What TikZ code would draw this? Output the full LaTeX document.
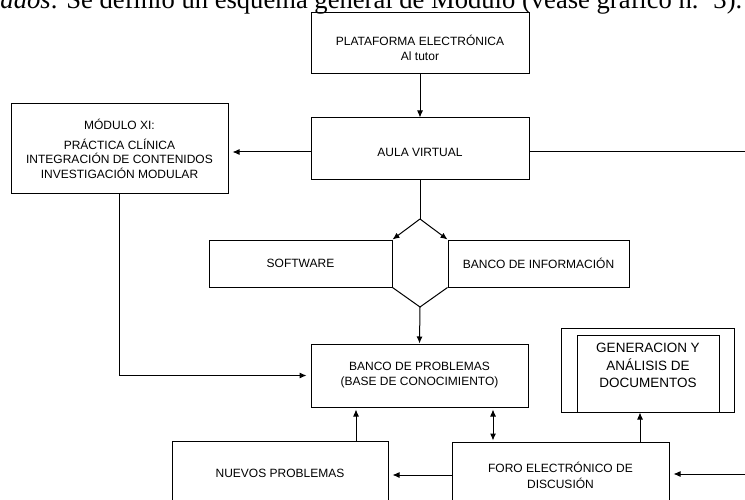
\documentclass[tikz,border=0pt]{standalone}
\usepackage{fontspec}
\setmainfont{Liberation Serif}
\newfontfamily\boxfont{Liberation Sans}
\usetikzlibrary{arrows.meta}

\begin{document}
\begin{tikzpicture}[x=1pt,y=-1pt,>={Latex[length=7pt,width=6pt]},line width=1pt,
    caja/.style={draw,align=center,inner sep=0pt,font=\boxfont\fontsize{12}{15}\selectfont},
    flecha/.style={->,shorten >=4pt}]
    \clip (0,0) rectangle (745,500);

    % Text above
    \node[anchor=base west,inner sep=0pt,font=\fontsize{26.6}{30}\selectfont] (cita) at (0,9)
        {\textit{ados}. Se definió un esquema general de Módulo (véase gráfico n.º 3).};

    % Boxes
    \node[caja,minimum width=218pt,minimum height=61pt] (plat) at (420,43.5)
        {\rule{0pt}{20pt}PLATAFORMA ELECTRÓNICA\\Al tutor};
    \node[caja,minimum width=218pt,minimum height=62pt] (aula) at (420,149)
        {\rule{0pt}{14.6pt}AULA VIRTUAL};
    \node[caja,minimum width=217pt,minimum height=90pt,font=\boxfont\fontsize{12}{14.5}\selectfont] (modulo) at (119.5,149)
        {MÓDULO XI:\\[5pt]PRÁCTICA CLÍNICA\\INTEGRACIÓN DE CONTENIDOS\\INVESTIGACIÓN MODULAR};
    \node[caja,minimum width=183pt,minimum height=47pt] (soft) at (300.5,263.5) {SOFTWARE};
    \node[caja,minimum width=181pt,minimum height=47pt] (binfo) at (538.5,263.5) {BANCO DE INFORMACIÓN};
    \node[caja,minimum width=217pt,minimum height=63pt] (bprob) at (419.5,375.5)
        {BANCO DE PROBLEMAS\\(BASE DE CONOCIMIENTO)};
    \node[caja,minimum width=216pt,minimum height=64pt] (nuevos) at (280,473) {NUEVOS PROBLEMAS};
    \node[caja,minimum width=217pt,minimum height=66pt,font=\boxfont\fontsize{12}{16}\selectfont] (foro) at (560.5,475)
        {FORO ELECTRÓNICO DE\\DISCUSIÓN};
    \node[draw,minimum width=173pt,minimum height=84pt] (marco) at (647.5,370) {};
    \node[caja,minimum width=142pt,minimum height=77pt,font=\boxfont\fontsize{13.5}{17.5}\selectfont] (gen) at (648,373.5)
        {GENERACION Y\\ANÁLISIS DE\\DOCUMENTOS\rule[-16pt]{0pt}{16pt}};

    % Points
    \coordinate (sup) at (420,219);
    \coordinate (inf) at (420,307);
    \coordinate (bordeA) at (745,152);
    \coordinate (bordeB) at (745,474);

    % Connectors
    \draw[->] (plat.south) -- (aula.north);
    \draw[flecha] ([yshift=-3pt]aula.west) -- ([yshift=-3pt]aula.west -| modulo.east);
    \draw ([yshift=-3pt]aula.east) -- (bordeA);
    \draw (aula.south) -- (sup);
    \draw[->] (sup) -- (soft.north east);
    \draw[->] (sup) -- (binfo.north west);
    \draw (soft.south east) -- (inf) -- (binfo.south west);
    \draw[->] (inf) -- (bprob.north);
    \draw[flecha] (modulo.south) |- (bprob.west);
    \draw[->,shorten >=2pt] ([xshift=76pt]nuevos.north) -- ([xshift=76pt]nuevos.north |- bprob.south);
    \draw[<->,shorten <=1pt,shorten >=2pt] ([xshift=-67.5pt]foro.north) -- ([xshift=-67.5pt]foro.north |- bprob.south);
    \draw[->] ([xshift=79.5pt]foro.north) -- ([xshift=79.5pt]foro.north |- gen.south);
    \draw[flecha] (foro.west) -- (foro.west -| nuevos.east);
    \draw[flecha] (bordeB) -- (bordeB -| foro.east);
\end{tikzpicture}
\end{document}
